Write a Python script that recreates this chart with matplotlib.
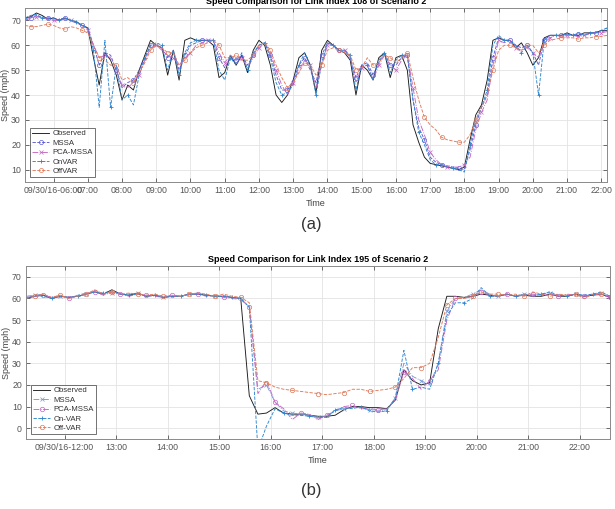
import numpy as np
import matplotlib
matplotlib.use('Agg')
import matplotlib.pyplot as plt

plt.rcParams['font.family'] = ['Liberation Sans', 'DejaVu Sans']

# ---- panel (a): link 108, 10 min samples 05:10 .. 22:10
t_a = np.arange(5 + 10/60, 22 + 10/60 + 1e-6, 10/60)

obs_a = [71, 71.5, 73, 72, 70.5,
         71, 70, 71, 70, 69.5, 68,
         67, 55, 44, 57, 54, 48,
         38, 44, 42, 50, 56, 62,
         60, 59, 48, 58, 46, 62,
         63, 62, 62, 62, 60, 47,
         49, 56, 52, 56, 49, 58,
         62, 60, 52, 40, 37, 40,
         46, 55, 57, 52, 41, 58,
         62, 60, 58, 57, 54, 40,
         52, 50, 46, 55, 57, 47,
         55, 56, 50, 28, 21, 15,
         12.5, 12, 11.5, 11, 10.5, 10,
         11, 22, 32, 36, 46, 62,
         63, 62, 62, 59, 61, 57,
         52, 55, 63, 64, 64, 64,
         65, 64, 64, 65, 65, 65,
         66, 66]
mssa_a = [70, 71, 72, 71, 71,
          70, 70.5, 71, 70, 69, 68,
          67, 60, 52, 57, 56, 50,
          43, 45, 46, 50, 55, 60,
          60, 59, 55, 58, 50, 56,
          60, 61, 62, 62, 62, 55,
          51, 55, 54, 56, 52, 56,
          60, 61, 56, 48, 42, 42,
          46, 52, 55, 50, 45, 56,
          61, 60, 58, 58, 55, 47,
          52, 53, 48, 53, 57, 52,
          52, 55, 56, 38, 27, 22,
          15, 13, 12, 11.5, 11, 10.5,
          10, 18, 28, 35, 40, 55,
          63, 62, 62, 60, 59, 60,
          57, 52, 62, 64, 64, 64,
          64.5, 64, 64.5, 64, 65, 65,
          65.5, 66]
pca_a = [70, 71, 71.5, 71, 70.5,
         70, 70, 70.5, 70, 69, 68,
         66, 60, 55, 56, 55, 50,
         44, 43, 45, 48, 54, 59,
         60, 58, 56, 55, 52, 55,
         57, 60, 61, 62, 62, 57,
         53, 56, 54, 55, 51, 55,
         59, 61, 57, 50, 44, 40,
         45, 50, 54, 52, 43, 52,
         60, 60, 57, 58, 55, 45,
         51, 52, 46, 52, 56, 52,
         50, 54, 56, 43, 30, 24,
         17, 14, 12, 11, 11, 11,
         12, 15, 26, 33, 38, 52,
         62, 61, 62, 59, 58, 59,
         57, 55, 61, 63, 64, 63.5,
         64, 64, 63.5, 64, 64.5, 65,
         65, 65.5]
onvar_a = [71, 72, 72.5, 71, 71,
           71, 70, 71, 70, 69.5, 68,
           67, 58, 35, 62, 35, 52,
           38, 40, 36, 48, 55, 60,
           61, 60, 50, 58, 48, 57,
           61, 62, 62, 62, 62, 50,
           46, 55, 52, 57, 50, 57,
           60, 61, 55, 45, 40, 41,
           44, 52, 57, 52, 40, 53,
           61, 60, 58, 58, 56, 42,
           52, 52, 46, 54, 57, 49,
           54, 56, 56, 38, 25, 20,
           14, 12, 12, 11, 10.5, 10,
           9, 20, 30, 35, 42, 60,
           64, 62, 62, 60, 57, 60,
           57, 40, 62, 64, 64, 64,
           64.5, 64, 65, 64, 65, 65,
           66, 67]
offvar_a = [68, 67.5, 67.5, 68, 68.5,
            68, 67, 66.5, 67.5, 67, 66,
            65, 60, 55, 54, 52, 52,
            46, 47, 45, 49, 53, 58,
            60, 59, 57, 57, 52, 54,
            57, 59, 60, 61, 62, 60,
            55, 55, 56, 54, 54, 56,
            60, 61, 58, 52, 47, 43,
            45, 49, 53, 52, 48, 52,
            58, 59, 58, 57, 56, 50,
            51, 55, 52, 53, 56, 55,
            53, 55, 57, 47, 38, 31,
            28, 26, 23, 22, 21.5, 21,
            21, 24, 30, 35, 40, 50,
            58, 60, 60, 59, 58, 60,
            60, 57, 60, 62, 62.5, 63,
            63, 63, 62.5, 63, 63, 63.5,
            63.5, 64]

# ---- panel (b): link 195, 10 min samples 11:15 .. 22:35
t_b = np.arange(11.25, 22 + 35/60 + 1e-6, 10/60)

obs_b = [60, 61, 61.5, 60, 61,
         60.5, 61, 62, 63, 62, 64,
         62, 61.5, 62.5, 61, 61.5, 60.5,
         61, 61, 62, 62, 61.5, 61,
         61, 60.5, 60, 15, 6.5, 7,
         9.5, 7, 6.5, 6.5, 6, 5.5,
         5.5, 6, 8.5, 10, 10, 9.5,
         9.5, 9, 13, 27, 22, 20,
         21, 46, 61, 61, 60.5, 61,
         62, 61.5, 61, 62, 61, 61.5,
         61, 61, 62, 61, 61, 62,
         61, 61.5, 62, 60.5]
mssa_b = [61, 61.5, 62, 60, 61,
          60.5, 61, 62, 63.5, 62, 62.5,
          62, 62, 62.5, 61, 61.5, 60.5,
          61, 61, 62, 62.5, 61.5, 61,
          61, 60.5, 60, 56, 18, 20,
          12, 8, 7, 6.5, 6, 5,
          5.5, 8, 9, 9.5, 9.5, 8.5,
          8, 8.5, 14, 30, 24, 22,
          20, 30, 54, 60, 60.5, 62,
          64, 62, 61, 62, 61, 62,
          61.5, 62, 62.5, 61, 61.5, 62,
          61, 62, 62.5, 61]
pca_b = [60.5, 61, 61.5, 60.5, 61.5,
         60, 61.5, 62.5, 63, 61.5, 63,
         62, 61, 62, 61.5, 61, 60.5,
         61.5, 61, 62, 62, 61, 61.5,
         60.5, 60, 59.5, 56, 16, 22,
         12, 9, 4, 7, 6.5, 4,
         6, 8, 10, 10.5, 9, 9,
         8.5, 9, 13, 26, 23, 18,
         22, 27, 50, 60, 60, 61,
         63, 61.5, 61, 62, 61, 61.5,
         62, 61.5, 62, 61, 62, 61.5,
         61, 62, 61.5, 60.5]
onvar_b = [60, 61.5, 61, 60, 61,
           60.5, 61, 62, 63, 62.5, 63.5,
           62, 61.5, 62, 61, 61.5, 60.5,
           61, 61, 62, 62, 61.5, 61,
           61, 60.5, 60, 56, -10, 1,
           9, 7, 6, 6, 5.5, 5,
           5, 8.5, 9.5, 9, 10, 8,
           7.5, 8, 14, 36, 18, 19,
           18, 30, 52, 58, 58, 60,
           65, 61, 61, 62, 61, 62,
           61, 62, 63, 61.5, 61, 62,
           61.5, 62, 63, 61]
offvar_b = [60, 61, 62, 60.5, 61.5,
            60, 61, 62, 64, 62, 63,
            62, 62.5, 62, 61.5, 62, 61,
            61.5, 61, 62, 62.5, 62, 61,
            62, 61, 60.5, 58, 22, 21,
            19, 18, 17.5, 17, 16.5, 16,
            15.5, 16, 16.5, 18, 18, 17,
            17.5, 18, 19, 23, 28, 28,
            30, 42, 57, 60, 60, 61,
            63, 62, 62, 61.5, 62, 61,
            63, 62, 61, 62, 61.5, 62,
            60, 62, 62, 61]

ticks_a = list(range(6, 23))
labels_a = ['09/30/16-06:00'] + ['%02d:00' % h for h in range(7, 23)]
ticks_b = list(range(12, 23))
labels_b = ['09/30/16-12:00'] + ['%02d:00' % h for h in range(13, 23)]

C_OBS = '#1a1a1a'
C_ON = '#2f86cf'
C_OFF = '#e07a5a'

fig = plt.figure(figsize=(6.15, 5.09), dpi=100)
ax1 = fig.add_axes([0.0407, 0.6424, 0.9463, 0.3419])
ax2 = fig.add_axes([0.0423, 0.1375, 0.9496, 0.3399])


def style_axes(ax, ticks, labels, ylim, yticks, title):
    ax.set_xticks(ticks)
    ax.set_xticklabels(labels)
    ax.set_yticks(yticks)
    ax.set_ylim(ylim)
    ax.grid(True, color='#e3e3e3', linewidth=0.6)
    ax.set_axisbelow(True)
    ax.tick_params(direction='in', length=3, width=0.6, colors='#555555',
                   labelsize=6.3, top=True, right=True, pad=3,
                   labeltop=False, labelright=False)
    for s in ax.spines.values():
        s.set_color('#8a8a8a')
        s.set_linewidth(0.7)
    ax.set_xlabel('Time', fontsize=6.5, color='#444444', labelpad=2.5)
    ax.set_ylabel('Speed (mph)', fontsize=6.5, color='#444444', labelpad=0.5)
    ax.set_title(title, fontsize=6.5, fontweight='bold', pad=3)


lw = 0.65
ax1.plot(t_a, obs_a, '-', color=C_OBS, lw=lw, label='Observed')
ax1.plot(t_a, mssa_a, '--', color='#5b5bd0', lw=lw, marker='o', ms=3,
         mfc='none', mew=0.5, markevery=(1, 3), label='MSSA')
ax1.plot(t_a, pca_a, '-.', color='#c468c4', lw=lw, marker='x', ms=3,
         mew=0.5, markevery=(2, 3), label='PCA-MSSA')
ax1.plot(t_a, onvar_a, '--', color=C_ON, lw=lw, marker='+', ms=3.5,
         mew=0.6, markevery=(0, 3), label='OnVAR')
ax1.plot(t_a, offvar_a, '--', color=C_OFF, lw=lw, marker='o', ms=3,
         mfc='none', mew=0.5, markevery=(1, 3), label='OffVAR')
ax1.set_xlim(t_a[0], t_a[-1])
style_axes(ax1, ticks_a, labels_a, (5, 75), range(10, 80, 10),
           'Speed Comparison for Link Index 108 of Scenario 2')

ax2.plot(t_b, obs_b, '-', color=C_OBS, lw=lw, label='Observed')
ax2.plot(t_b, mssa_b, '-.', color='#7a9ad6', lw=lw, marker='x', ms=3,
         mew=0.5, markevery=(1, 3), label='MSSA')
ax2.plot(t_b, pca_b, '-.', color='#c468c4', lw=lw, marker='o', ms=3.2,
         mfc='none', mew=0.5, markevery=(2, 3), label='PCA-MSSA')
ax2.plot(t_b, onvar_b, '--', color=C_ON, lw=lw, marker='+', ms=3.5,
         mew=0.6, markevery=(0, 3), label='On-VAR')
ax2.plot(t_b, offvar_b, '--', color=C_OFF, lw=lw, marker='o', ms=3.2,
         mfc='none', mew=0.5, markevery=(1, 3), label='Off-VAR')
ax2.set_xlim(t_b[0], t_b[-1])
style_axes(ax2, ticks_b, labels_b, (-5, 75), range(0, 80, 10),
           'Speed Comparison for Link Index 195 of Scenario 2')

for ax in (ax1, ax2):
    leg = ax.legend(loc='lower left', fontsize=5.6, frameon=True, fancybox=False,
                    handlelength=2.2, handletextpad=0.4, labelspacing=0.25,
                    borderpad=0.3, borderaxespad=0.6)
    leg.get_frame().set_edgecolor('#333333')
    leg.get_frame().set_linewidth(0.6)
    for txt in leg.get_texts():
        txt.set_color('#333333')

fig.text(0.506, 0.558, '(a)', ha='center', va='center', fontsize=12, color='#333333')
fig.text(0.506, 0.0373, '(b)', ha='center', va='center', fontsize=12, color='#333333')

fig.savefig('out.png', dpi=100)
